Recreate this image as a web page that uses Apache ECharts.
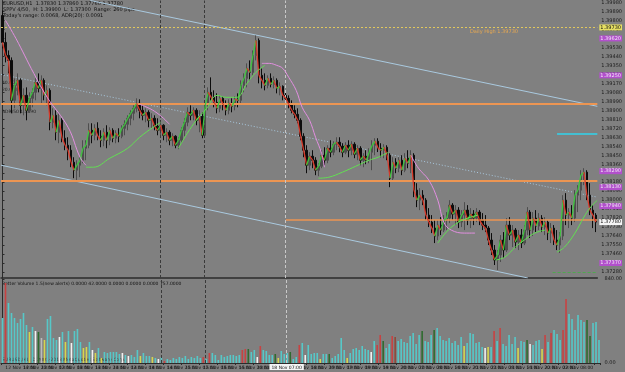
<!DOCTYPE html>
<html><head><meta charset="utf-8">
<script src="https://cdn.jsdelivr.net/npm/echarts@6/dist/echarts.min.js"></script>
<style>html,body{margin:0;padding:0;background:#808080}#c{width:625px;height:372px}</style>
</head><body><div id="c"></div>
<script>
// ---------- DATA ----------
const openP = [
1.3985,1.3958,1.3945,1.3940,1.3900,1.3915,1.3920,1.3895,1.3905,1.3890,
1.3902,1.3908,1.3918,1.3912,1.3920,1.3905,1.3910,1.3878,1.3885,1.3868,
1.3880,1.3862,1.3855,1.3850,1.3838,1.3830,1.3835,1.3840,1.3852,1.3855,
1.3870,1.3865,1.3872,1.3864,1.3860,1.3868,1.3860,1.3870,1.3862,1.3867,
1.3864,1.3872,1.3876,1.3882,1.3887,1.3892,1.3897,1.3890,1.3885,1.3888,
1.3880,1.3882,1.3874,1.3870,1.3875,1.3865,1.3868,1.3860,1.3864,1.3855,
1.3860,1.3870,1.3878,1.3888,1.3885,1.3890,1.3880,1.3884,1.3865,1.3895,
1.3908,1.3903,1.3898,1.3892,1.3902,1.3896,1.3890,1.3897,1.3894,1.3901,
1.3900,1.3915,1.3922,1.3932,1.3928,1.3945,1.3960,1.3925,1.3920,1.3915,
1.3922,1.3916,1.3920,1.3912,1.3914,1.3905,1.3902,1.3896,1.3890,1.3886,
1.3880,1.3864,1.3850,1.3835,1.3844,1.3840,1.3830,1.3834,1.3845,1.3840,
1.3852,1.3848,1.3856,1.3858,1.3854,1.3848,1.3855,1.3850,1.3856,1.3846,
1.3852,1.3840,1.3844,1.3840,1.3848,1.3855,1.3859,1.3852,1.3850,1.3853,
1.3845,1.3822,1.3838,1.3832,1.3840,1.3830,1.3842,1.3837,1.3845,1.3810,
1.3800,1.3805,1.3800,1.3785,1.3778,1.3772,1.3764,1.3775,1.3770,1.3780,
1.3782,1.3795,1.3786,1.3790,1.3778,1.3785,1.3790,1.3780,1.3786,1.3782,
1.3788,1.3780,1.3775,1.3772,1.3760,1.3750,1.3740,1.3745,1.3760,1.3750,
1.3775,1.3765,1.3770,1.3758,1.3765,1.3757,1.3770,1.3788,1.3770,1.3782,
1.3774,1.3782,1.3773,1.3778,1.3767,1.3772,1.3760,1.3755,1.3764,1.3800,
1.3785,1.3788,1.3782,1.3805,1.3810,1.3825,1.3828,1.3805,1.3790,1.3785];
const closeP = [
1.3958,1.3945,1.3940,1.3900,1.3915,1.3920,1.3895,1.3905,1.3890,1.3902,
1.3908,1.3918,1.3912,1.3920,1.3905,1.3910,1.3878,1.3885,1.3868,1.3880,
1.3862,1.3855,1.3850,1.3838,1.3830,1.3835,1.3840,1.3852,1.3855,1.3870,
1.3865,1.3872,1.3864,1.3860,1.3868,1.3860,1.3870,1.3862,1.3867,1.3864,
1.3872,1.3876,1.3882,1.3887,1.3892,1.3897,1.3890,1.3885,1.3888,1.3880,
1.3882,1.3874,1.3870,1.3875,1.3865,1.3868,1.3860,1.3864,1.3855,1.3860,
1.3870,1.3878,1.3888,1.3885,1.3890,1.3880,1.3884,1.3865,1.3895,1.3908,
1.3903,1.3898,1.3892,1.3902,1.3896,1.3890,1.3897,1.3894,1.3901,1.3900,
1.3915,1.3922,1.3932,1.3928,1.3945,1.3960,1.3925,1.3920,1.3915,1.3922,
1.3916,1.3920,1.3912,1.3914,1.3905,1.3902,1.3896,1.3890,1.3886,1.3880,
1.3864,1.3850,1.3835,1.3844,1.3840,1.3830,1.3834,1.3845,1.3840,1.3852,
1.3848,1.3856,1.3858,1.3854,1.3848,1.3855,1.3850,1.3856,1.3846,1.3852,
1.3840,1.3844,1.3840,1.3848,1.3855,1.3859,1.3852,1.3850,1.3853,1.3845,
1.3822,1.3838,1.3832,1.3840,1.3830,1.3842,1.3837,1.3845,1.3810,1.3800,
1.3805,1.3800,1.3785,1.3778,1.3772,1.3764,1.3775,1.3770,1.3780,1.3782,
1.3795,1.3786,1.3790,1.3778,1.3785,1.3790,1.3780,1.3786,1.3782,1.3788,
1.3780,1.3775,1.3772,1.3760,1.3750,1.3740,1.3745,1.3760,1.3750,1.3775,
1.3765,1.3770,1.3758,1.3765,1.3757,1.3770,1.3788,1.3770,1.3782,1.3774,
1.3782,1.3773,1.3778,1.3767,1.3772,1.3760,1.3755,1.3764,1.3800,1.3785,
1.3788,1.3782,1.3805,1.3810,1.3825,1.3828,1.3805,1.3790,1.3785,1.3778];
const highP = [
1.3990,1.3968,1.3950,1.3943,1.3922,1.3927,1.3922,1.3912,1.3913,1.3908,
1.3912,1.3922,1.3927,1.3925,1.3922,1.3915,1.3912,1.3892,1.3890,1.3887,
1.3882,1.3870,1.3863,1.3855,1.3843,1.3840,1.3843,1.3860,1.3860,1.3877,
1.3877,1.3876,1.3878,1.3870,1.3872,1.3875,1.3873,1.3872,1.3870,1.3872,
1.3875,1.3880,1.3885,1.3890,1.3895,1.3902,1.3901,1.3896,1.3892,1.3890,
1.3887,1.3885,1.3882,1.3878,1.3876,1.3872,1.3870,1.3867,1.3865,1.3863,
1.3873,1.3882,1.3893,1.3895,1.3893,1.3892,1.3890,1.3888,1.3900,1.3913,
1.3923,1.3910,1.3907,1.3905,1.3904,1.3900,1.3901,1.3902,1.3904,1.3907,
1.3920,1.3927,1.3937,1.3940,1.3950,1.3965,1.3962,1.3932,1.3927,1.3925,
1.3927,1.3924,1.3922,1.3918,1.3915,1.3910,1.3905,1.3900,1.3895,1.3892,
1.3882,1.3867,1.3855,1.3848,1.3850,1.3843,1.3837,1.3850,1.3853,1.3855,
1.3860,1.3859,1.3863,1.3863,1.3857,1.3858,1.3860,1.3859,1.3858,1.3855,
1.3854,1.3847,1.3850,1.3852,1.3860,1.3862,1.3862,1.3857,1.3856,1.3855,
1.3847,1.3843,1.3842,1.3843,1.3845,1.3847,1.3850,1.3850,1.3847,1.3817,
1.3812,1.3810,1.3802,1.3792,1.3785,1.3780,1.3780,1.3783,1.3785,1.3788,
1.3800,1.3797,1.3795,1.3793,1.3790,1.3798,1.3795,1.3792,1.3790,1.3792,
1.3790,1.3787,1.3785,1.3774,1.3767,1.3755,1.3750,1.3765,1.3768,1.3782,
1.3783,1.3775,1.3772,1.3770,1.3771,1.3775,1.3793,1.3790,1.3788,1.3790,
1.3787,1.3785,1.3783,1.3780,1.3777,1.3775,1.3770,1.3768,1.3805,1.3807,
1.3792,1.3795,1.3810,1.3815,1.3830,1.3832,1.3830,1.3817,1.3795,1.3787];
const lowP = [
1.3952,1.3938,1.3927,1.3887,1.3892,1.3905,1.3887,1.3885,1.3880,1.3888,
1.3893,1.3900,1.3908,1.3897,1.3900,1.3895,1.3870,1.3872,1.3860,1.3857,
1.3858,1.3850,1.3840,1.3833,1.3822,1.3819,1.3823,1.3837,1.3840,1.3852,
1.3857,1.3860,1.3860,1.3853,1.3854,1.3852,1.3855,1.3858,1.3857,1.3858,
1.3862,1.3865,1.3870,1.3875,1.3880,1.3888,1.3882,1.3880,1.3878,1.3873,
1.3872,1.3870,1.3865,1.3863,1.3860,1.3858,1.3855,1.3854,1.3852,1.3851,
1.3857,1.3864,1.3874,1.3880,1.3880,1.3875,1.3868,1.3862,1.3863,1.3890,
1.3900,1.3893,1.3887,1.3888,1.3890,1.3885,1.3886,1.3888,1.3890,1.3893,
1.3897,1.3908,1.3913,1.3920,1.3925,1.3940,1.3917,1.3912,1.3910,1.3912,
1.3913,1.3912,1.3907,1.3905,1.3900,1.3897,1.3892,1.3887,1.3882,1.3877,
1.3860,1.3843,1.3827,1.3830,1.3832,1.3825,1.3824,1.3832,1.3835,1.3837,
1.3843,1.3845,1.3850,1.3848,1.3843,1.3846,1.3843,1.3845,1.3842,1.3840,
1.3835,1.3833,1.3836,1.3837,1.3830,1.3845,1.3848,1.3843,1.3842,1.3840,
1.3813,1.3820,1.3827,1.3828,1.3825,1.3828,1.3832,1.3827,1.3803,1.3793,
1.3790,1.3795,1.3780,1.3773,1.3767,1.3757,1.3760,1.3765,1.3768,1.3770,
1.3777,1.3780,1.3775,1.3772,1.3773,1.3770,1.3775,1.3772,1.3775,1.3778,
1.3775,1.3770,1.3768,1.3755,1.3745,1.3735,1.3730,1.3738,1.3742,1.3748,
1.3760,1.3753,1.3752,1.3750,1.3752,1.3755,1.3765,1.3762,1.3764,1.3768,
1.3770,1.3768,1.3765,1.3760,1.3757,1.3755,1.3750,1.3747,1.3760,1.3775,
1.3772,1.3775,1.3778,1.3788,1.3800,1.3815,1.3800,1.3785,1.3772,1.3768];
const volumes = [
450,800,600,500,450,400,440,500,380,310,
360,320,310,250,230,440,470,250,230,260,
310,210,320,200,320,340,210,150,160,210,
130,100,150,50,110,100,110,110,110,90,
100,80,70,80,60,130,70,100,70,70,
60,50,40,60,20,40,30,50,40,60,
50,70,40,60,50,70,50,60,40,100,
100,80,30,80,60,70,80,80,70,80,
130,140,140,110,130,60,170,130,120,80,
80,90,50,120,90,100,110,40,60,180,
200,80,180,90,100,100,40,90,90,90,
50,70,90,250,130,50,100,140,150,130,
170,140,130,110,220,180,280,220,150,190,
270,260,220,240,210,200,270,300,190,280,
320,220,210,280,330,350,270,230,220,250,
200,220,180,260,170,200,300,290,200,210,
160,150,160,160,320,220,350,190,170,280,
190,260,150,220,210,230,190,180,220,230,
140,280,210,300,330,290,230,330,640,490,
440,330,480,430,410,430,270,400,410,230];
// volume bar state codes (c normal, r/d climax down, g churn, y low, w/s neutral)
const volumeState = ("crcccccccy"+"cwgsyccccw"+"cycwcccyyc"+"wycycccccc"+"wcwcccyccc"+
  "ycwcrccccc"+"cccccccrcr"+"cccccccccc"+"rrgccwrccc"+"cgycccgccr"+
  "cwccccyccg"+"cccccycccc"+"cccwcrrgcc"+"rdcccccccc"+"gcccgccccc"+
  "ccccyccccc"+"cwycrcrccc"+"ccyccgwccc"+"yrcrcccrrc"+"cccccggccc").split('');

// slow indicator traces, [bar index, price]
const pinkA = [[1,1.3980],[4.5,1.3962],[10.5,1.3927],[15,1.3903],[22,1.3873],[26,1.3843],[28,1.3835]];
const pinkB = [[46,1.3896],[48.5,1.3893],[51,1.3889],[54,1.3882],[56,1.3876]];
const pinkC = [[87,1.3937],[89.5,1.3937],[92,1.3935],[94,1.3932],[96,1.3923],[98.5,1.3910],[100.5,1.3893],[103,1.3880],[105,1.3863],[107,1.3847],[108,1.3833]];
const pinkD = [[137,1.3845],[139.5,1.3832],[143,1.3820],[146,1.3800],[148,1.3778],[150.5,1.3770],[155,1.3767],[158.5,1.3767]];
const greenA = [[28,1.3833],[30.5,1.3833],[36,1.3842],[42,1.3852],[46,1.3863],[50.5,1.3873],[53,1.3878]];
const greenB = [[59,1.3852],[62,1.3867],[65,1.3880],[68.5,1.3892],[72,1.3905],[75,1.3903],[78.5,1.3903],[82,1.3917],[85,1.3928],[88,1.3935]];
const greenC = [[106,1.3822],[109.5,1.3823],[114,1.3828],[118.5,1.3834],[123,1.3840],[126,1.3843],[129.5,1.3848]];
const greenD = [[146,1.3757],[149.5,1.3770],[153,1.3778],[156,1.3782],[159.5,1.3785]];
const greenE = [[165.5,1.3740],[168.5,1.3743],[172,1.3753],[175,1.3760],[178.5,1.3767],[182,1.3770]];
const greenF = [[186,1.3748],[188.5,1.3753],[192,1.3767],[195,1.3783],[197,1.3792],[199.5,1.3800]];

// trend channel, [bar index, price]
const channelUpper = [[29.5,1.4000],[199.5,1.3894]];
const channelMid = [[-0.5,1.3926],[199.5,1.3803]];
const channelLower = [[-0.5,1.3835],[176.2,1.3722]];

// horizontal levels
const levelDaily = 1.3973;
const levelOrange = [1.3897, 1.3819];
const levelOrangePart = {from: 95, price: 1.3780};
const levelCyan = {from: 186, price: 1.3867};
const levelGreen = {from: 184.5, price: 1.3728};
const purpleTags = [1.3962, 1.3925, 1.3829, 1.3813, 1.3794, 1.3737];
const lastPrice = 1.3778;
// vertical separators (bar index)
const vDark = [52.8, 67.8];
const vLight = 94.8;

const priceTicks = [1.3998,1.3989,1.3980,1.3971,1.3962,1.3953,1.3944,1.3935,1.3926,1.3917,
  1.3908,1.3899,1.3890,1.3881,1.3872,1.3863,1.3854,1.3845,1.3836,1.3827,1.3818,1.3809,
  1.3800,1.3791,1.3782,1.3773,1.3764,1.3755,1.3746,1.3737,1.3728];
const volumeTicks = [0, 840];

// time categories (H1, weekends skipped)
const MON = ['Jan','Feb','Mar','Apr','May','Jun','Jul','Aug','Sep','Oct','Nov','Dec'];
const timeLabels = [];
let t = Date.UTC(2013,10,12,8,0);
while (timeLabels.length < openP.length) {
  const d = new Date(t);
  const wd = d.getUTCDay();
  if (wd !== 0 && wd !== 6) {
    const hh = String(d.getUTCHours()).padStart(2,'0');
    timeLabels.push(timeLabels.length === 0 ? '12 Nov 2013' : d.getUTCDate() + ' ' + MON[d.getUTCMonth()] + ' ' + hh + ':00');
  }
  t += 3600000;
}

// ---------- CHART ----------
const N = openP.length;
const volColors = {c:'#56c8c8', r:'#c84242', d:'#8e4a3a', g:'#2f6b2f', y:'#d6d64e', w:'#f2f2f2', s:'#bcbcbc'};
const FONT = 'DejaVu Sans';

const fastSegs = [];
for (let i = 0; i < N - 1; i++) {
  fastSegs.push({coords: [[i, closeP[i]], [i + 1, closeP[i + 1]]],
    lineStyle: {color: closeP[i + 1] < closeP[i] ? '#d83a2a' : '#3fc43f'}});
}

function trace(data, color, width, type) {
  return {type:'line', xAxisIndex:2, yAxisIndex:0, data, symbol:'none', smooth:0.4, silent:true,
    lineStyle:{color, width, type: type || 'solid'}, z: 6};
}
const tagLabel = (bg, fg) => ({show:true, position:'end', distance:2, fontSize:5, fontFamily:FONT,
  color:fg, backgroundColor:bg, padding:[1,1,0,1], formatter: p => Number(p.value).toFixed(5)});

const option = {
  animation: false,
  backgroundColor: '#808080',
  grid: [
    {left:1, right:24, top:0, height:278},
    {left:1, right:24, top:279, height:84}
  ],
  xAxis: [
    {type:'category', gridIndex:0, data:timeLabels, boundaryGap:true,
     axisLine:{show:true, lineStyle:{color:'#2b2b2b', width:1.5}}, axisTick:{show:false}, axisLabel:{show:false}, splitLine:{show:false}},
    {type:'category', gridIndex:1, data:timeLabels, boundaryGap:true,
     axisLine:{show:true, lineStyle:{color:'#2b2b2b', width:1}},
     axisTick:{show:true, interval:5, length:2, lineStyle:{color:'#2b2b2b'}},
     axisLabel:{show:true, interval:5, fontSize:4.5, fontFamily:FONT, color:'#151515', margin:2}, splitLine:{show:false}},
    {type:'value', gridIndex:0, min:-0.5, max:N-0.5, show:false},
    {type:'value', gridIndex:1, min:-0.5, max:N-0.5, show:false}
  ],
  yAxis: [
    {type:'value', gridIndex:0, position:'right', min:1.3722, max:1.4000,
     axisLine:{show:true, lineStyle:{color:'#2b2b2b'}},
     axisTick:{show:true, length:2, customValues:priceTicks, lineStyle:{color:'#2b2b2b'}},
     axisLabel:{show:true, customValues:priceTicks, fontSize:5, fontFamily:FONT, color:'#1a1a1a', margin:4,
       formatter: v => v.toFixed(5)},
     splitLine:{show:false}},
    {type:'value', gridIndex:1, position:'right', min:0, max:840,
     axisLine:{show:true, lineStyle:{color:'#2b2b2b'}},
     axisTick:{show:true, length:2, customValues:volumeTicks, lineStyle:{color:'#2b2b2b'}},
     axisLabel:{show:true, customValues:volumeTicks, fontSize:5, fontFamily:FONT, color:'#1a1a1a', margin:4,
       formatter: v => v.toFixed(2)},
     splitLine:{show:false}}
  ],
  series: [
    // channel + levels + vertical lines
    {type:'line', xAxisIndex:2, yAxisIndex:0, data:channelUpper, symbol:'none', silent:true,
     lineStyle:{color:'#a9c9df', width:1}, z:2,
     markLine:{symbol:'none', silent:true, precision:5, label:{show:false},
       data:[
         {yAxis:levelDaily, lineStyle:{color:'#e2c85c', type:[2,2], width:1}},
         {yAxis:levelOrange[0], lineStyle:{color:'#ec9552', type:'solid', width:2}},
         {yAxis:levelOrange[1], lineStyle:{color:'#ec9552', type:'solid', width:2}},
         [{coord:[levelOrangePart.from, levelOrangePart.price], lineStyle:{color:'#ec9552', type:'solid', width:1.5}},
          {coord:[N-0.5, levelOrangePart.price]}],
         [{coord:[levelCyan.from, levelCyan.price], lineStyle:{color:'#2fd4ee', type:'solid', width:1.5}},
          {coord:[N-0.5, levelCyan.price]}],
         [{coord:[levelGreen.from, levelGreen.price], lineStyle:{color:'#4fa84f', type:[3,2], width:1}},
          {coord:[N-0.5, levelGreen.price]}],
         {xAxis:vDark[0], lineStyle:{color:'#3a3a3a', type:[3,2], width:1}},
         {xAxis:vDark[1], lineStyle:{color:'#3a3a3a', type:[3,2], width:1}},
         {xAxis:vLight, lineStyle:{color:'#c8c8c8', type:[3,2], width:1}}
       ]}},
    {type:'line', xAxisIndex:2, yAxisIndex:0, data:channelMid, symbol:'none', silent:true,
     lineStyle:{color:'#a9c9df', width:1, type:[1,2]}, z:2},
    {type:'line', xAxisIndex:2, yAxisIndex:0, data:channelLower, symbol:'none', silent:true,
     lineStyle:{color:'#a9c9df', width:1}, z:2},
    // candles
    {type:'candlestick', xAxisIndex:0, yAxisIndex:0, barWidth:2, silent:true, z:4,
     data: openP.map((o,i) => [o, closeP[i], lowP[i], highP[i]]),
     itemStyle:{color:'#4e4e4e', color0:'#0c0c0c', borderColor:'#4e4e4e', borderColor0:'#0c0c0c', borderWidth:1}},
    // fast coloured average
    {type:'lines', coordinateSystem:'cartesian2d', xAxisIndex:2, yAxisIndex:0, data:fastSegs, silent:true, z:5,
     lineStyle:{width:1.3, opacity:1}},
    trace(pinkA, '#e28fe0', 1), trace(pinkB, '#e28fe0', 1), trace(pinkC, '#e28fe0', 1), trace(pinkD, '#e28fe0', 1),
    trace(greenA, '#62e052', 1), trace(greenB, '#62e052', 1), trace(greenC, '#62e052', 1),
    trace(greenD, '#62e052', 1), trace(greenE, '#62e052', 1), trace(greenF, '#62e052', 1),
    // axis tags
    {type:'line', xAxisIndex:2, yAxisIndex:0, data:[[-0.5, lastPrice],[N-0.5, lastPrice]], symbol:'none', silent:true,
     clip:false, lineStyle:{color:'rgba(0,0,0,0)'}, z:7,
     markLine:{symbol:'none', silent:true, precision:5, lineStyle:{color:'rgba(0,0,0,0)', width:1},
       data:[{yAxis:levelDaily, label:tagLabel('#e6df63','#111')}]
         .concat(purpleTags.map(p => ({yAxis:p, label:tagLabel('#b250cc','#f0e6f4')})))
         .concat([{yAxis:lastPrice, label:tagLabel('#f4f4f4','#111')}])}},
    // volume
    {type:'bar', xAxisIndex:1, yAxisIndex:1, barWidth:1.6, silent:true,
     data: volumes.map((v,i) => ({value:v, itemStyle:{color: volColors[volumeState[i]]}}))},
    {type:'line', xAxisIndex:3, yAxisIndex:1, data:[[-0.5,0],[N-0.5,0]], symbol:'none', silent:true,
     clip:false, lineStyle:{color:'rgba(0,0,0,0)'},
     markLine:{symbol:'none', silent:true, precision:5,
       data:[
         {xAxis:vDark[0], label:{show:false}, lineStyle:{color:'#3a3a3a', type:[3,2], width:1}},
         {xAxis:vDark[1], label:{show:false}, lineStyle:{color:'#3a3a3a', type:[3,2], width:1}},
         {xAxis:vLight, lineStyle:{color:'#c8c8c8', type:[3,2], width:1},
          label:{show:true, position:'start', distance:1, fontSize:4.5, fontFamily:FONT, color:'#111',
            backgroundColor:'#f4f4f4', padding:[1,2,0,2], formatter: () => timeLabels[Math.round(vLight)]}}
       ]}}
  ],
  graphic: [
    {type:'text', left:3, top:1, silent:true, style:{text:'EURUSD,H1  1.37830 1.37860 1.37760 1.37780', fontSize:5, fontFamily:FONT, fill:'#111'}},
    {type:'text', left:3, top:7, silent:true, style:{text:'SPPV 4/50,  H: 1.39900  L: 1.37300  Range: 260 pips', fontSize:5, fontFamily:FONT, fill:'#111'}},
    {type:'text', left:3, top:13, silent:true, style:{text:"Today's range: 0.0068, ADR(20): 0.0091", fontSize:5, fontFamily:FONT, fill:'#111'}},
    {type:'text', left:470, top:29, silent:true, style:{text:'Daily High 1.39730', fontSize:5, fontFamily:FONT, fill:'#e8a850'}},
    {type:'text', left:2, top:80, silent:true, style:{text:'40.00 H', fontSize:4.5, fontFamily:FONT, fill:'#222'}},
    {type:'text', left:2, top:87, silent:true, style:{text:'20.00 L', fontSize:4.5, fontFamily:FONT, fill:'#222'}},
    {type:'text', left:2, top:109, silent:true, style:{text:'ADR/50 1.3890', fontSize:4.5, fontFamily:FONT, fill:'#222'}},
    {type:'text', left:2, top:281, silent:true, style:{text:'Better Volume 1.5(new alerts) 0.0000 42.0000 0.0000 0.0000 0.0000 757.0000', fontSize:4.5, fontFamily:FONT, fill:'#111'}},
    {type:'text', left:2, top:357, silent:true, style:{text:'EURUSD,H1, \u00a9 2001-2013 MetaQuotes Software Corp.', fontSize:4.5, fontFamily:FONT, fill:'#111'}}
  ]
};
const chart = echarts.init(document.getElementById('c'));
chart.setOption(option);
</script>
</body></html>
